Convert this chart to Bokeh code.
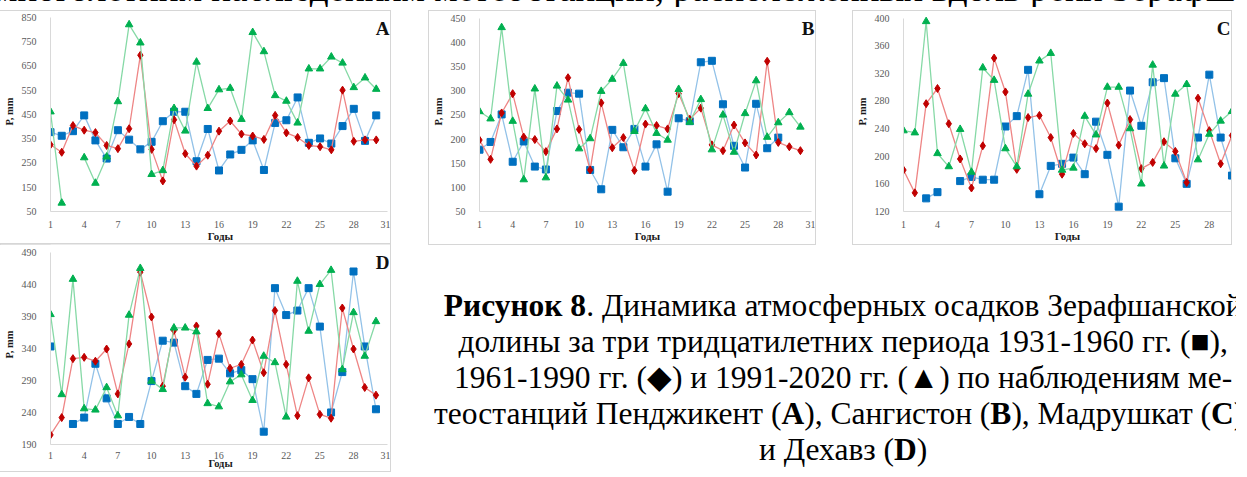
from bokeh.plotting import figure
from bokeh.models import Range1d, FixedTicker, Label, Div, Spacer
from bokeh.layouts import row, column
from bokeh.embed import file_html
from bokeh.resources import INLINE

nan = float("nan")
years = list(range(1, 31))
x_ticks = list(range(1, 32, 3))

# Panel A - Пенджикент
A_1931 = [377, 362, 381, 446, 343, 268, 385, 346, 306, 337, 422, 461, 461, 257, 390,
          219, 285, 304, 343, 221, 415, 426, 520, 333, 351, 330, 402, 473, 341, 446]
A_1961 = [325, 294, 404, 385, 375, 322, 309, 391, 694, 306, 176, 428, 288, 237, 282,
          381, 423, 369, 361, 347, 446, 374, 355, 322, 317, 304, 550, 339, 345, 345]
A_1991 = [461, 85, nan, 272, 167, 275, 503, 820, 745, 203, 219, 475, 382, 666, 475,
          552, 558, 430, 788, 709, 528, 505, 415, 638, 638, 687, 662, 561, 601, 554]

# Panel B - Сангистон
B_1931 = [178, 194, 251, 153, 195, 143, 137, 258, 296, 294, 136, 96, 219, 183, 221,
          143, 189, 91, 243, 237, 359, 362, 272, 186, 141, 273, 181, 203, nan, nan]
B_1961 = [198, 158, 254, 294, 204, 199, 174, 221, 327, 220, 136, 275, 182, 203, 135,
          231, 228, 221, 294, 241, 264, 188, 176, 229, 192, 167, 361, 193, 184, 176]
B_1991 = [257, 242, 431, 237, 116, 304, 120, 310, 281, 180, 201, 299, 324, 357, 216,
          263, 212, 198, 303, 235, 282, 178, 250, 173, 253, 321, 204, 234, 255, 225]

# Panel C - Мадрушкат
C_1931 = [nan, nan, 139, 148, nan, 164, 170, 166, 166, 243, 258, 325, 145, 186, 189,
          198, 174, 250, 202, 127, 295, 244, 307, 313, 197, 160, 227, 318, 227, 172]
C_1961 = [180, 147, 276, 298, 247, 196, 154, 215, 342, 293, 181, 256, 259, 227, 174,
          233, 218, 211, 277, 216, 253, 182, 191, 221, 207, 162, 284, 237, 189, 230]
C_1991 = [237, 234, 395, 204, 185, 239, 177, 328, 310, 211, 185, 290, 338, 349, 180,
          183, 258, 231, 300, 300, 240, 160, 332, 186, 290, 304, 195, 232, 251, 265]

# Panel D - Дехавз
D_1931 = [343, nan, 222, 232, 316, 262, 222, 233, 222, 289, 352, 349, 281, 269, 322,
          324, 301, 306, 292, 210, 434, 392, 399, 434, 374, 240, 303, 460, 343, 245]
D_1961 = [205, 232, 324, 326, 320, 339, 269, 347, 459, 389, 281, 368, 295, 375, 284,
          363, 309, 315, 353, 302, 399, 315, 235, 294, 237, 231, 403, 339, 279, 267]
D_1991 = [393, 268, 448, 246, 244, 279, 235, 392, 465, 289, 276, 372, 372, 366, 254,
          249, 288, 299, 259, 328, 318, 233, 445, 367, 440, 462, 307, 396, 328, 382]

STYLES = [
    ("#93C2E8", "square", "#0070C0", 7),
    ("#EE8585", "diamond", "#C00000", 8),
    ("#86D9A6", "triangle", "#00B050", 7.5),
]
SERIF = "Liberation Serif"
RIGHT_PAD = 8   # space the library keeps at the right of the frame


def panel(letter, series, ymin, ymax, ystep, w, h, geom, letter_px,
          xlab_std=(3, -1), xlab_size="11px"):
    # geom: pixel x of year 1, pixel x of year 31, pixel y of ymax, pixel y of ymin
    x1, x31, ytop, ybot = geom
    sx = (x31 - x1) / 30.0
    sy = (ybot - ytop) / float(ymax - ymin)
    frame_right = w - RIGHT_PAD
    xend = 1 + (frame_right - x1) / sx
    yend = ymax + ytop / sy
    p = figure(width=w, height=h, output_backend="svg", toolbar_location=None,
               x_range=Range1d(1, xend), y_range=Range1d(ymin, yend),
               min_border_left=round(x1), min_border_right=0, min_border_top=0,
               min_border_bottom=round(h - ybot), background_fill_color="white",
               border_fill_color="white", frame_align=False,
               styles={"outline": "1px solid #d6d6d6"})
    p.outline_line_color = None
    p.xgrid.visible = False
    p.ygrid.visible = False
    p.xaxis.ticker = FixedTicker(ticks=x_ticks)
    p.yaxis.ticker = FixedTicker(ticks=list(range(ymin, ymax + 1, ystep)))
    p.xaxis.bounds = (1, 31)
    p.yaxis.bounds = (ymin, ymax)
    for ax in (p.xaxis, p.yaxis):
        ax.major_tick_line_color = None
        ax.minor_tick_line_color = None
        ax.axis_line_color = "#d9d9d9"
        ax.major_label_text_font = SERIF
        ax.major_label_text_font_size = "10px"
        ax.major_label_text_color = "#595959"
        ax.axis_label_text_font = SERIF
        ax.axis_label_text_font_style = "bold"
        ax.axis_label_text_color = "#1a1a1a"
    p.xaxis.major_label_standoff = xlab_std[0]
    p.yaxis.major_label_standoff = 8
    p.yaxis.axis_label = "P, mm"
    p.yaxis.axis_label_text_font_size = "10.5px"
    p.yaxis.axis_label_standoff = 4
    p.xaxis.axis_label = "Годы"
    p.xaxis.axis_label_text_font_size = xlab_size
    p.xaxis.axis_label_standoff = xlab_std[1]
    for vals, (lc, mk, mc, ms) in zip(series, STYLES):
        p.line(years, vals, line_color=lc, line_width=1.3)
        p.scatter(years, vals, marker=mk, size=ms, fill_color=mc, line_color=mc)
    lpx = min(letter_px[0], frame_right - 1)
    lx = 1 + (lpx - x1) / sx
    ly = ymax - (letter_px[1] - ytop) / sy
    p.add_layout(Label(x=lx, y=ly, text=letter,
                       text_font=SERIF, text_font_style="bold",
                       text_font_size="19px", text_color="#111111",
                       text_align="right", text_baseline="middle"))
    return p


TOP_H = 233
BOT_H = 227
W_A, W_B, W_C = 390, 386, 378
GAP_AB, GAP_BC = 39, 38
W_RIGHT = W_B + GAP_BC + W_C          # 802
W_TOTAL = W_A + GAP_AB + W_RIGHT      # 1231

pA = panel("A", (A_1931, A_1961, A_1991), 50, 850, 100, W_A, TOP_H,
           (44, 379, 6, 206), (385, 17))
pB = panel("B", (B_1931, B_1961, B_1991), 50, 450, 50, W_B, TOP_H,
           (44.7, 374, 7, 206), (380, 18))
pC = panel("C", (C_1931, C_1961, C_1991), 120, 400, 40, W_C, TOP_H,
           (44.7, 381.7, 6.7, 206), (383, 17))
pD = panel("D", (D_1931, D_1961, D_1991), 190, 490, 50, W_A, BOT_H,
           (43, 378.7, 8, 206), (387, 19), xlab_std=(1, -4), xlab_size="10.5px")

top_text = ("<div style=\"position:relative;top:-35px;left:-11px;width:1242px;height:37px;"
            "overflow:hidden;white-space:nowrap;"
            "font-family:'Liberation Serif';font-size:37px;line-height:37px;"
            "color:#000;\">"
            "многолетним наблюдениям метеостанций, расположенных вдоль реки Зерафшанского"
            "</div>")
top = Div(text=top_text, width=W_TOTAL, height=1, styles={"overflow": "visible"})

caption_html = (
    "<div style=\"font-family:'Liberation Serif';font-size:31.5px;line-height:36px;"
    "color:#000;text-align:center;white-space:nowrap;padding-top:39px;\">"
    "<div><b>Рисунок 8</b>. Динамика атмосферных осадков Зерафшанской</div>"
    "<div>долины за три тридцатилетних периода 1931-1960 гг. (■),</div>"
    "<div>1961-1990 гг. (◆) и 1991-2020 гг. (▲) по наблюдениям ме-</div>"
    "<div>теостанций Пенджикент (<b>A</b>), Сангистон (<b>B</b>), Мадрушкат (<b>C</b>),</div>"
    "<div>и Дехавз (<b>D</b>)</div>"
    "</div>")
caption = Div(text=caption_html, width=W_RIGHT, height=BOT_H,
              styles={"overflow": "hidden"})

left_col = column(pA, pD, width=W_A)
right_col = column(row(pB, Spacer(width=GAP_BC, height=TOP_H), pC, width=W_RIGHT),
                   caption, width=W_RIGHT)
layout = column(top, row(left_col, Spacer(width=GAP_AB, height=TOP_H + BOT_H),
                         right_col, width=W_TOTAL), width=W_TOTAL)

open("out.html", "w").write(file_html(layout, INLINE))
